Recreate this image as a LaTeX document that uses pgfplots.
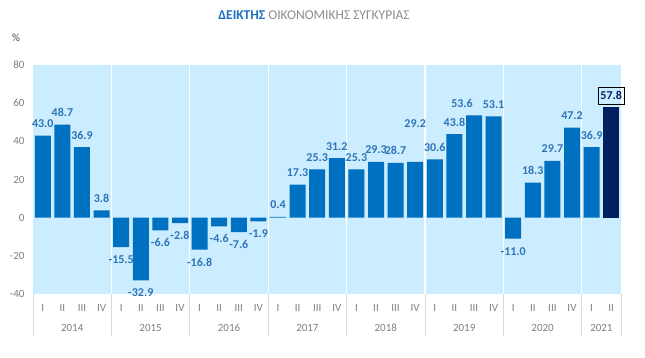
\documentclass[border=0pt]{standalone}
\usepackage{pgfplots}
\pgfplotsset{compat=1.18}
\usepackage{pgfplotstable}
\usepackage{fontspec}
\setmainfont{Carlito}
\definecolor{bg}{HTML}{CCECFF}
\definecolor{barblue}{HTML}{0070C0}
\definecolor{darkbar}{HTML}{002060}
\definecolor{lblblue}{HTML}{2E75B6}
\definecolor{tickgray}{HTML}{7F7F7F}
\definecolor{sepgray}{HTML}{D9D9D9}
\definecolor{titleblue}{HTML}{1F6FBF}
\definecolor{titlegray}{HTML}{8C8C8C}

\pgfplotstableread{
x y lab dy dx
0 43.0 43.0 12 0
1 48.7 48.7 12 0
2 36.9 36.9 12 0
3 3.8 3.8 12 0
4 -15.5 -15.5 -12.5 0
5 -32.9 -32.9 -12.5 0
6 -6.6 -6.6 -12.5 0
7 -2.8 -2.8 -12.5 0
8 -16.8 -16.8 -12.5 0
9 -4.6 -4.6 -12.5 0
10 -7.6 -7.6 -12.5 0
11 -1.9 -1.9 -12.5 0
12 0.4 0.4 12 0
13 17.3 17.3 12 0
14 25.3 25.3 12 0
15 31.2 31.2 12 0
16 25.3 25.3 12 0
17 29.3 29.3 12 0
18 28.7 28.7 12 0
19 29.2 29.2 38 0
20 30.6 30.6 12 0
21 43.8 43.8 12 0
22 53.6 53.6 12 -12
23 53.1 53.1 12 0
24 -11.0 -11.0 -12.5 0
25 18.3 18.3 12 0
26 29.7 29.7 12 0
27 47.2 47.2 12 0
28 36.9 36.9 12 0
}\datatab

\begin{document}
\begin{tikzpicture}[x=1pt,y=1pt]
\useasboundingbox (0,0) rectangle (645,358);
\node[font=\fontsize{13.5}{15}\selectfont] at (314,343) {\textcolor{titleblue}{\textbf{ΔΕΙΚΤΗΣ}} \textcolor{titlegray}{ΟΙΚΟΝΟΜΙΚΗΣ ΣΥΓΚΥΡΙΑΣ}};
\node[font=\fontsize{11}{13}\selectfont, text=black!75] at (16,320) {\%};
\begin{axis}[
  at={(33pt,64pt)}, anchor=south west,
  scale only axis, width=588pt, height=229pt,
  xmin=-0.5, xmax=29.5, ymin=-40, ymax=80,
  ytick={-40,-20,...,80},
  xtick={0,...,29},
  xticklabels={I,II,III,IV,I,II,III,IV,I,II,III,IV,I,II,III,IV,I,II,III,IV,I,II,III,IV,I,II,III,IV,I,II},
  axis line style={draw=none},
  major tick length=0pt,
  axis background/.style={fill=bg},
  ybar, bar width=16pt, bar shift=0pt,
  clip=false,
  /pgf/number format/assume math mode=true,
  tick label style={font=\fontsize{11}{13}\selectfont, text=tickgray},
  yticklabel style={xshift=-5pt},
  xticklabel style={yshift=-7pt},
]
\foreach \b in {3.5,7.5,11.5,15.5,19.5,23.5,27.5} {
  \edef\tmp{\noexpand\draw[white, line width=1.3pt] (axis cs:\b,-40) -- (axis cs:\b,80);}
  \tmp
}
\foreach \b in {-0.5,3.5,7.5,11.5,15.5,19.5,23.5,27.5,29.5} {
  \edef\tmp{\noexpand\draw[sepgray, line width=0.8pt] (axis cs:\b,-40) -- ++(0pt,-42pt);}
  \tmp
}
\foreach \c/\yr in {1.5/2014,5.5/2015,9.5/2016,13.5/2017,17.5/2018,21.5/2019,25.5/2020,28.5/2021} {
  \edef\tmp{\noexpand\node[font=\noexpand\fontsize{11}{13}\noexpand\selectfont, text=tickgray] at (axis cs:\c,-40) [yshift=-34pt] {\yr};}
  \tmp
}
\addplot[fill=barblue, draw=none,
  point meta=explicit symbolic,
  visualization depends on={\thisrow{dy}\as\dy},
  visualization depends on={\thisrow{dx}\as\dx},
  nodes near coords={\pgfplotspointmeta},
  every node near coord/.append style={font=\fontsize{12}{14}\selectfont\bfseries, text=lblblue, inner sep=0pt, anchor=center, yshift=\dy pt, xshift=\dx pt},
] table[x=x, y=y, meta=lab] {\datatab};
\addplot[fill=darkbar, draw=none,
  point meta=explicit symbolic,
  nodes near coords={\pgfplotspointmeta},
  every node near coord/.append style={font=\fontsize{12}{14}\selectfont\bfseries, text=darkbar, draw=black, line width=0.6pt, inner ysep=4pt, inner xsep=2.5pt, anchor=south, yshift=3pt},
] coordinates {(29,57.8) [57.8]};
\end{axis}
\end{tikzpicture}
\end{document}
